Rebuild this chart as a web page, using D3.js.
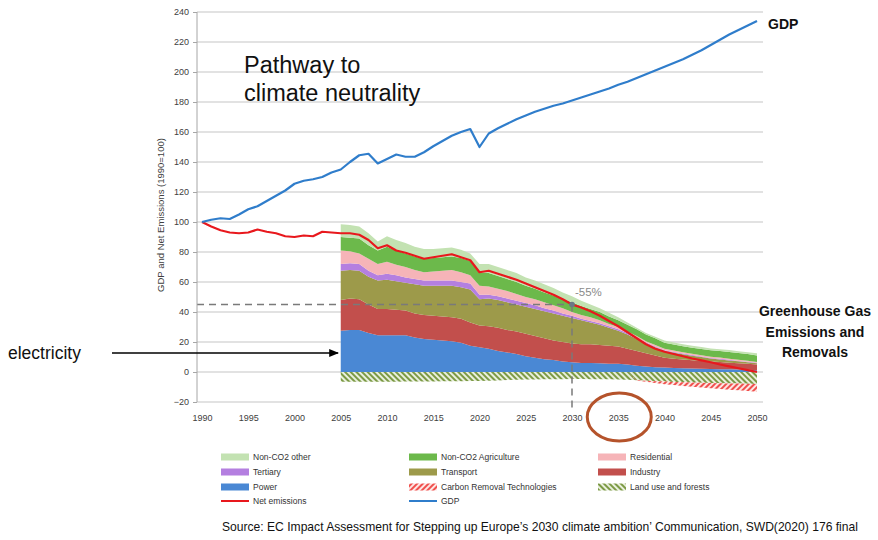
<!DOCTYPE html>
<html>
<head>
<meta charset="utf-8">
<script src="https://cdn.jsdelivr.net/npm/d3@7"></script>
<style>
  body { margin: 0; background: #fff; }
  svg { display: block; }
</style>
</head>
<body>
<script>
// ---- Data (index 1990 = 100) ----
const gdpYears = d3.range(1990, 2051);
const gdp = [
  100, 101.5, 102.5, 102, 105, 108.5, 110.5, 114, 117.5, 121,
  125.5, 127.5, 128.5, 130, 133, 135, 140, 144.5, 145.5, 139,
  142, 145, 143.5, 143.5, 146.5, 150.5, 154, 157.5, 160, 162,
  150, 159, 162.5, 165.5, 168.5, 171, 173.5, 175.5, 177.5, 179,
  181, 183, 185, 187, 189, 191.5, 193.5, 196, 198.5, 201,
  203.5, 206, 208.5, 211.5, 214.5, 218, 221.5, 225, 228, 231,
  234
];
const netEmissions = [
  100, 97, 94.5, 93, 92.5, 93, 95, 93.5, 92.5, 90.5,
  90, 91, 90.5, 93.5, 93, 92.5, 92.5, 91.5, 88, 82.5,
  84.5, 81, 79.5, 77.5, 75.5, 76.5, 77.5, 78.5, 76.5, 74.5,
  66.5, 67.5, 65.5, 63.5, 61.5, 59, 56.5, 54, 51.5, 48.5,
  45, 43, 40.5, 37.5, 34, 30.5, 26.5, 22.5, 18.5, 15.5,
  13.5, 12, 10.5, 9, 7.8, 6.5, 5, 3.8, 2.5, 1.2,
  0
];

// Sector emissions 2005-2050
const sectorYears = d3.range(2005, 2051);
const power = [
  27.5, 28, 28, 26, 24.5, 24.5, 24.5, 24.5, 23, 22,
  21.5, 21, 20.5, 19.5, 17.5, 16.5, 15.5, 14, 13, 12,
  10.5, 9.5, 8.5, 8, 7, 6.5, 6, 6, 5.8, 5.5,
  5.5, 5, 4.2, 3.6, 3.2, 3, 2.7, 2.5, 2.3, 2.1,
  2, 1.9, 1.8, 1.7, 1.5, 1.2
];
const industry = [
  20.5, 21, 20.5, 19, 17.5, 17.5, 17, 16.5, 16, 16,
  16, 16, 16, 16, 15.5, 14.5, 15, 15.5, 15, 15,
  15, 14.5, 14, 13, 13, 12.5, 12.5, 12.5, 12.2, 12,
  11.5, 10.5, 9.8, 8.9, 7.8, 6.5, 6.2, 5.9, 5.6, 5.3,
  5, 4.7, 4.4, 4.2, 4, 3.8
];
const transport = [
  19.5, 19, 19, 18.5, 19, 19.5, 19, 18.5, 19.5, 19.5,
  20, 20.5, 21, 21, 22, 17.5, 18.5, 18.5, 18.5, 18,
  18, 18, 18, 18, 17.5, 17, 16, 14.5, 13.5, 12,
  10.5, 9.5, 8, 6.5, 5.5, 4.5, 4, 3.5, 3, 2.6,
  2, 1.8, 1.5, 1.2, 1, 0.8
];
const tertiary = [
  4.5, 4.5, 4.5, 4, 3.5, 4, 4, 3.5, 3.5, 3.5,
  3.5, 3.5, 3.5, 3.5, 4, 3, 2.5, 2.5, 2.5, 2.5,
  2.5, 2.5, 2, 2, 1.5, 1.5, 1, 1, 1, 1,
  1, 0.8, 0.8, 0.6, 0.5, 0.5, 0.4, 0.4, 0.4, 0.4,
  0.4, 0.4, 0.4, 0.3, 0.3, 0.3
];
const residential = [
  9, 8, 7, 8, 7.5, 8, 7, 7, 6, 5.5,
  6, 6.5, 7, 6.5, 5.5, 6, 5.5, 5, 5, 4.5,
  4, 4, 4, 3.5, 3.5, 2.5, 2.5, 2.5, 2, 1.5,
  1.5, 1.2, 1.2, 0.9, 1, 1, 1, 0.9, 0.9, 0.8,
  0.8, 0.8, 0.8, 0.7, 0.7, 0.6
];
const agriculture = [
  9, 9, 10, 9, 9, 10, 9.5, 9, 9, 9,
  9, 9, 9, 9.5, 9.5, 8.5, 9, 8.5, 8, 8,
  7.5, 7, 6.5, 6.5, 6, 6.5, 6, 5.5, 5.5, 5,
  4.5, 4.5, 4.5, 4.5, 4.5, 4, 4, 4, 4, 4.2,
  4.3, 4.4, 4.5, 4.5, 4.5, 4.3
];
const otherNonCO2 = [
  8.5, 8.5, 8, 8, 6, 7, 7, 7, 6.5, 6.5,
  6, 6, 6, 5.5, 5, 6, 6, 6, 6, 6,
  5.5, 5.5, 5.5, 5, 4.5, 4, 3.5, 3, 2.5, 2.5,
  2, 1.5, 1, 1, 1, 1.5, 1.3, 1.3, 1.3, 1.2,
  1.2, 1.2, 1.2, 1.2, 1.2, 1.5
];
const landUse = [
  -6.5, -6.5, -6.5, -6.5, -6.5, -6.5, -6.5, -6.4, -6.4, -6.3,
  -6.3, -6.2, -6.2, -6.1, -6, -6, -5.8, -5.6, -5.4, -5.2,
  -5, -5, -4.9, -4.8, -4.8, -4.7, -4.7, -4.8, -4.8, -4.9,
  -5, -5.2, -5.5, -5.8, -6.1, -6.4, -6.6, -6.8, -7, -7.2,
  -7.4, -7.5, -7.6, -7.7, -7.8, -8
];
const carbonRemoval = [
  0, 0, 0, 0, 0, 0, 0, 0, 0, 0,
  0, 0, 0, 0, 0, 0, 0, 0, 0, 0,
  0, 0, 0, 0, 0, 0, 0, 0, 0, 0,
  0, 0, -0.3, -0.7, -1.2, -1.7, -2.1, -2.5, -2.8, -3.1,
  -3.4, -3.8, -4.2, -4.5, -4.8, -5.2
];

const xTicks = [1990, 1995, 2000, 2005, 2010, 2015, 2020, 2025, 2030, 2035, 2040, 2045, 2050];
const yTicks = [-20, 0, 20, 40, 60, 80, 100, 120, 140, 160, 180, 200, 220, 240];
const target2030 = { year: 2030, value: 45, label: "-55%" };

const layerKeys = ["power", "industry", "transport", "tertiary", "residential", "agriculture", "other", "landUse", "removal"];
const layerSeries = { power, industry, transport, tertiary, residential, agriculture, other: otherNonCO2, landUse, removal: carbonRemoval };
const layerFill = {
  power: "#4a88d4", industry: "#c24f4c", transport: "#9d9a4a", tertiary: "#b47fe0",
  residential: "#f6b4b8", agriculture: "#6cb94b", other: "#c3e2b2",
  landUse: "url(#hatchLand)", removal: "url(#hatchRemoval)"
};
const legendLabels = [
  ["other", "Non-CO2 other"], ["agriculture", "Non-CO2 Agriculture"], ["residential", "Residential"],
  ["tertiary", "Tertiary"], ["transport", "Transport"], ["industry", "Industry"],
  ["power", "Power"], ["removal", "Carbon Removal Technologies"], ["landUse", "Land use and forests"],
  ["net", "Net emissions"], ["gdp", "GDP"]
];
const lineColor = { net: "#e8181d", gdp: "#2f7dcb" };

// ---- Layout ----
const W = 878, H = 540;
const x = d3.scaleLinear().domain([1990, 2050]).range([202, 757]);
const y = d3.scaleLinear().domain([-20, 240]).range([402, 12]);
const gridLeft = 197, gridRight = 763;
const font = "'Liberation Sans', Arial, sans-serif";

const svg = d3.select("body").append("svg").attr("width", W).attr("height", H)
  .style("font-family", font);
svg.append("rect").attr("width", W).attr("height", H).attr("fill", "#fff");

const defs = svg.append("defs");
function hatch(id, stroke, bg, angle) {
  const p = defs.append("pattern").attr("id", id).attr("patternUnits", "userSpaceOnUse")
    .attr("width", 4).attr("height", 4).attr("patternTransform", `rotate(${angle})`);
  p.append("rect").attr("width", 4).attr("height", 4).attr("fill", bg);
  p.append("rect").attr("width", 2).attr("height", 4).attr("fill", stroke);
}
hatch("hatchLand", "#7c9a45", "#e9efdd", -45);
hatch("hatchRemoval", "#f0504d", "#fde6e4", 45);
defs.append("marker").attr("id", "arrowHead").attr("viewBox", "0 0 10 10")
  .attr("refX", 9).attr("refY", 5).attr("markerWidth", 7).attr("markerHeight", 7)
  .attr("orient", "auto")
  .append("path").attr("d", "M0,1 L10,5 L0,9 Z").attr("fill", "#000");

// Horizontal gridlines
svg.append("g").selectAll("line").data(yTicks).join("line")
  .attr("x1", gridLeft).attr("x2", gridRight)
  .attr("y1", d => y(d)).attr("y2", d => y(d))
  .attr("stroke", "#d9d9d9").attr("stroke-width", 1.3);

// Stacked sector areas
const table = sectorYears.map((yr, i) => {
  const row = { year: yr };
  layerKeys.forEach(k => row[k] = layerSeries[k][i]);
  return row;
});
const stacked = d3.stack().keys(layerKeys).offset(d3.stackOffsetDiverging)(table);
const area = d3.area().x(d => x(d.data.year)).y0(d => y(d[0])).y1(d => y(d[1]));
svg.append("g").selectAll("path").data(stacked).join("path")
  .attr("d", area).attr("fill", d => layerFill[d.key]);

// 2030 target guides
const tx = x(target2030.year), ty = y(target2030.value);
svg.append("line").attr("x1", gridLeft).attr("x2", tx).attr("y1", ty).attr("y2", ty)
  .attr("stroke", "#7a7a7a").attr("stroke-width", 1.5).attr("stroke-dasharray", "7,5");
svg.append("line").attr("x1", tx).attr("x2", tx).attr("y1", ty).attr("y2", y(-26))
  .attr("stroke", "#7a7a7a").attr("stroke-width", 1.5).attr("stroke-dasharray", "7,5");

// Lines
const line = d3.line().x((d, i) => x(gdpYears[i])).y(d => y(d));
svg.append("path").attr("d", line(netEmissions)).attr("fill", "none")
  .attr("stroke", lineColor.net).attr("stroke-width", 2.2).attr("stroke-linejoin", "round");
svg.append("path").attr("d", line(gdp)).attr("fill", "none")
  .attr("stroke", lineColor.gdp).attr("stroke-width", 2.2).attr("stroke-linejoin", "round");

svg.append("circle").attr("cx", tx).attr("cy", ty).attr("r", 2.8).attr("fill", "#6a7886");
svg.append("text").attr("x", tx + 3).attr("y", ty - 9).text(target2030.label)
  .attr("font-size", 11.5).attr("fill", "#8a8a8a");

// Axes
const yAxis = svg.append("g").attr("transform", `translate(${gridLeft},0)`)
  .call(d3.axisLeft(y).tickValues(yTicks).tickSizeInner(4).tickSizeOuter(0).tickPadding(4));
yAxis.select(".domain").attr("stroke", "#a6a6a6").attr("d", `M0,${y(240)}V${y(-20)}`);
yAxis.selectAll(".tick line").attr("stroke", "#a6a6a6");
yAxis.selectAll("text").attr("font-size", 9).attr("fill", "#404040").style("font-family", font);

const xAxis = svg.append("g").attr("transform", `translate(0,${y(-20)})`)
  .call(d3.axisBottom(x).tickValues(xTicks).tickSize(0).tickPadding(13).tickFormat(d3.format("d")));
xAxis.select(".domain").remove();
xAxis.selectAll("text").attr("font-size", 9).attr("fill", "#404040").style("font-family", font);

svg.append("text")
  .attr("transform", "translate(164,215) rotate(-90)")
  .attr("text-anchor", "middle").attr("font-size", 9.5).attr("fill", "#404040")
  .text("GDP and Net Emissions (1990=100)");

// Annotations
const title = svg.append("text").attr("x", 244).attr("font-size", 23.5).attr("fill", "#111");
title.append("tspan").attr("x", 244).attr("y", 73).text("Pathway to");
title.append("tspan").attr("x", 244).attr("y", 101).text("climate neutrality");

svg.append("text").attr("x", 768).attr("y", 29).attr("font-size", 14).attr("font-weight", "bold")
  .attr("fill", "#111").text("GDP");

const ghg = svg.append("text").attr("text-anchor", "middle").attr("font-size", 14)
  .attr("font-weight", "bold").attr("fill", "#111");
["Greenhouse Gas", "Emissions and", "Removals"].forEach((t, i) =>
  ghg.append("tspan").attr("x", 815).attr("y", 316 + i * 20.5).text(t));

svg.append("text").attr("x", 8).attr("y", 359).attr("font-size", 17.5).attr("fill", "#111").text("electricity");
svg.append("line").attr("x1", 112).attr("x2", 338).attr("y1", 353).attr("y2", 353)
  .attr("stroke", "#000").attr("stroke-width", 1.4).attr("marker-end", "url(#arrowHead)");

svg.append("ellipse").attr("cx", x(2035) + 1).attr("cy", 417).attr("rx", 32).attr("ry", 24)
  .attr("fill", "none").attr("stroke", "#b5532b").attr("stroke-width", 3);

// Legend
const colX = [221, 409, 598], rowY = [457, 472, 487, 501];
const legend = svg.append("g");
legendLabels.forEach(([key, label], i) => {
  const cx = colX[i % 3], cy = rowY[Math.floor(i / 3)];
  if (key === "net" || key === "gdp") {
    legend.append("line").attr("x1", cx).attr("x2", cx + 28).attr("y1", cy).attr("y2", cy)
      .attr("stroke", lineColor[key]).attr("stroke-width", 2);
  } else {
    legend.append("rect").attr("x", cx).attr("y", cy - 3.5).attr("width", 28).attr("height", 7)
      .attr("fill", layerFill[key]);
  }
  legend.append("text").attr("x", cx + 32).attr("y", cy + 3).attr("font-size", 8.5)
    .attr("fill", "#333").text(label);
});

svg.append("text").attr("x", 222).attr("y", 531).attr("font-size", 12.1).attr("fill", "#111")
  .text("Source: EC Impact Assessment for Stepping up Europe’s 2030 climate ambition’ Communication, SWD(2020) 176 final");
</script>
</body>
</html>
